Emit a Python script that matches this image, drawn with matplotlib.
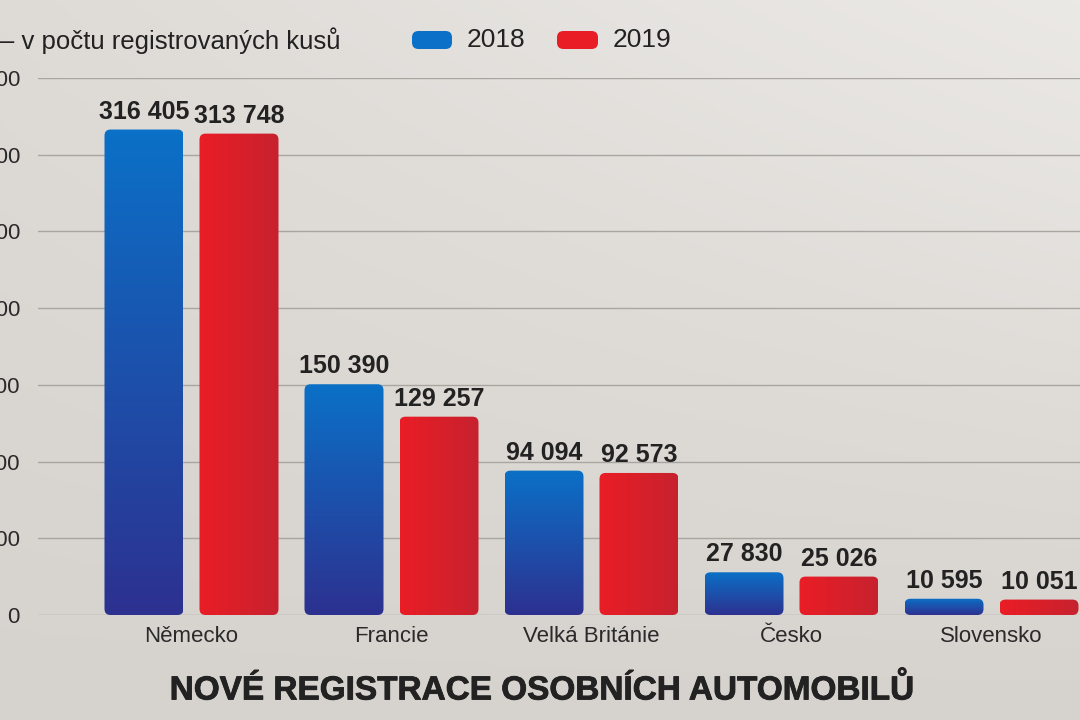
import numpy as np
import matplotlib
matplotlib.use("Agg")
import matplotlib.pyplot as plt
import matplotlib.patheffects as pe
from matplotlib.patches import FancyBboxPatch
from matplotlib.colors import LinearSegmentedColormap

plt.rcParams['font.family'] = ['Liberation Sans', 'DejaVu Sans']

countries = ['Německo', 'Francie', 'Velká Británie', 'Česko', 'Slovensko']
reg_2018 = [316405, 150390, 94094, 27830, 10595]
reg_2019 = [313748, 129257, 92573, 25026, 10051]
years = ['2018', '2019']
yticks = [0, 50000, 100000, 150000, 200000, 250000, 300000, 350000]

def fmt(v):
    return f"{v:,}".replace(",", " ")

fig = plt.figure(figsize=(10.8, 7.2), dpi=100)

# background
bg = fig.add_axes([0, 0, 1, 1], zorder=-10)
gx, gy = np.meshgrid(np.linspace(0, 1, 200), np.linspace(0, 1, 200))
shade = 0.6 * gx * (1 - gy) + 0.4 * (1 - gy)
bgcmap = LinearSegmentedColormap.from_list('bg', ['#d6d2cd', '#ebe9e6'])
bg.imshow(shade, cmap=bgcmap, aspect='auto', extent=[0, 1, 0, 1])
bg.axis('off')

ax = fig.add_axes([38 / 1080, 1 - 615 / 720, 1 - 38 / 1080, (615 - 78) / 720])
ax.patch.set_alpha(0)

x = np.arange(len(countries))
w = 0.395
off = 0.2375
b1 = ax.bar(x - off, reg_2018, w, color='none')
b2 = ax.bar(x + off, reg_2019, w, color='none')

ax.set_xlim(-0.7675, 4.4425)
ax.set_ylim(0, 350000)
ax.set_yticks(yticks)
ax.set_yticklabels([fmt(t) for t in yticks])
ax.yaxis.grid(True, color='#a9a6a2', lw=1)
ax.set_axisbelow(True)
for s in ax.spines.values():
    s.set_visible(False)
ax.tick_params(axis='y', length=0, pad=13, labelsize=16, labelcolor='#2a2a2a')
ax.tick_params(axis='x', length=0, pad=8, labelsize=16, labelcolor='#2a2a2a')
ax.set_xticks(x)
ax.set_xticklabels(countries)

# rounding aspect
fig.canvas.draw()
p0 = ax.transData.transform((0, 0))
p1 = ax.transData.transform((1, 100000))
xpx = p1[0] - p0[0]
ypx = (p1[1] - p0[1]) / 100000
aspect = (1 / ypx) / (1 / xpx)
r = 6 / xpx

blue_cmap = LinearSegmentedColormap.from_list('b', ['#2d3190', '#0b70c7'])
red_cmap = LinearSegmentedColormap.from_list('r', ['#ea1d26', '#c7222f'])
vgrad = np.linspace(0, 1, 100).reshape(-1, 1)
hgrad = np.linspace(0, 1, 100).reshape(1, -1)

for bars, cmap, grad in [(b1, blue_cmap, vgrad), (b2, red_cmap, hgrad)]:
    for b in bars:
        bx, by, bw, bh = b.get_x(), b.get_y(), b.get_width(), b.get_height()
        patch = FancyBboxPatch((bx, by), bw, bh,
                               boxstyle=f"round,pad=0,rounding_size={r}",
                               mutation_aspect=aspect, fc='none', ec='none')
        ax.add_patch(patch)
        im = ax.imshow(grad, cmap=cmap, aspect='auto', origin='lower',
                       extent=[bx, bx + bw, by, by + bh], zorder=2)
        im.set_clip_path(patch)
        ax.text(bx + bw / 2, bh + 6 / ypx, fmt(int(bh)), ha='center', va='bottom',
                fontsize=18, fontweight='bold', color='#222222', zorder=3)

ax.set_xlim(-0.7675, 4.4425)
ax.set_ylim(0, 350000)

# subtitle and legend
fig.text(0, 1 - 41 / 720, '– v počtu registrovaných kusů', fontsize=18.5,
         color='#222222', ha='left', va='center')
for (x0, x1, col, lab, tx) in [(412, 452, '#0b70c7', years[0], 467),
                               (557, 598, '#e81d25', years[1], 613)]:
    fig.patches.append(FancyBboxPatch((x0 / 1080, 1 - 49 / 720), (x1 - x0) / 1080, 18 / 720,
                                      boxstyle="round,pad=0,rounding_size=0.006",
                                      mutation_aspect=1.5, fc=col, ec='none',
                                      transform=fig.transFigure, figure=fig))
    fig.text(tx / 1080, 1 - 40 / 720, lab, fontsize=19, color='#222222',
             ha='left', va='center')

fig.text(542 / 1080, 1 - 690 / 720, 'NOVÉ REGISTRACE OSOBNÍCH AUTOMOBILŮ',
         fontsize=24, fontweight='bold', color='#222222', ha='center', va='center',
         path_effects=[pe.withStroke(linewidth=0.6, foreground='#222222')])

fig.savefig('out.png', dpi=100)
